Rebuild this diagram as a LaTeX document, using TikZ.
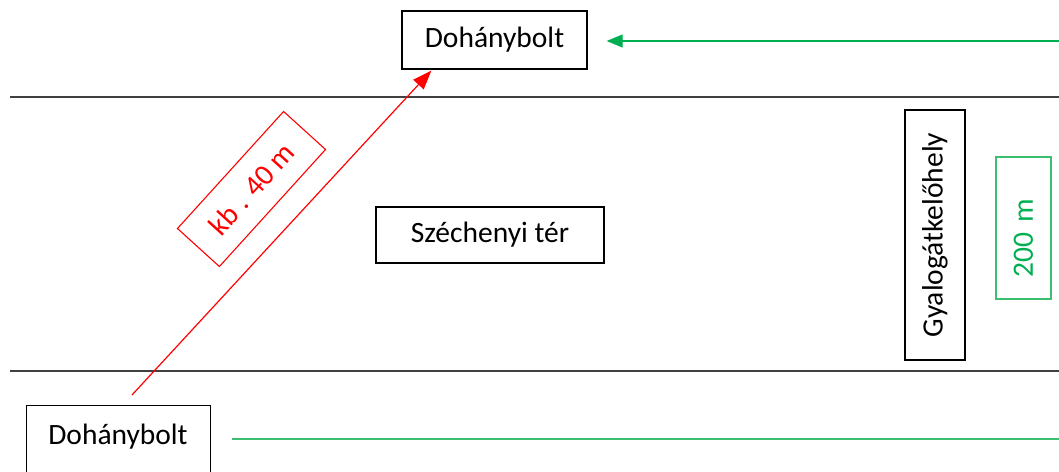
\documentclass[tikz,border=0pt]{standalone}
\usepackage{fontspec}
\setmainfont{Carlito}
\usetikzlibrary{arrows.meta,calc}
\definecolor{offgreen}{HTML}{00B050}
\definecolor{linegreen}{HTML}{3CBF70}
\definecolor{roadgray}{HTML}{404040}
\begin{document}
\begin{tikzpicture}[x=1pt,y=-1pt,
  lbl/.style={font=\fontsize{29.5}{35}\selectfont, inner sep=0pt},
  box/.style={lbl, draw=black, line width=1.3pt, fill=white},
  road/.style={draw=roadgray, line width=1.3pt},
  redarrow/.style={draw=red, line width=1.2pt, -{Triangle[length=19pt,width=14pt]}},
  greenarrow/.style={draw=offgreen, line width=1.2pt, -{Triangle[length=16pt,width=13pt]}},
  greenline/.style={draw=linegreen, line width=1.2pt}]
\useasboundingbox (0,0) rectangle (1059,471);
\clip (0,0) rectangle (1059,471);
% roads
\coordinate (r1a) at (10,97);
\coordinate (r1b) at (1059,97);
\coordinate (r2a) at (10,371);
\coordinate (r2b) at (1059,371);
\draw[road] (r1a) -- (r1b);
\draw[road] (r2a) -- (r2b);
% nodes
\node[box, minimum width=185pt, minimum height=58pt] (top) at (494.5,40) {Dohánybolt};
\node[box, minimum width=184pt, minimum height=90pt, anchor=north west] (bot) at (26,405) {};
\node[lbl] (bottxt) at (118,437) {Dohánybolt};
\node[box, minimum width=228pt, minimum height=56pt] (sq) at (490,235) {Széchenyi tér};
\node[box, rotate=90, minimum width=250pt, minimum height=60pt] (cross) at (935,235) {Gyalogátkelőhely};
\node[lbl, draw=linegreen, line width=1.2pt, rotate=90, minimum height=55pt,
      inner xsep=22pt, text width=98pt, align=left] (dist) at (1023.5,228) {\textcolor{offgreen}{200 m}};
\node[lbl, draw=red, line width=1.1pt, rotate=47.8, minimum width=158pt, minimum height=56.6pt,
      text=red] (kb) at (251.5,189) {kb . 40 m};
% connectors
\coordinate (rs) at (132,395);
\coordinate (rt) at ($(top.south west)+(30,1)$);
\draw[redarrow] (rs) -- (rt);
\coordinate (gs) at (1059,41);
\coordinate (gt) at ($(top.east)+(19,1)$);
\draw[greenarrow] (gs) -- (gt);
\coordinate (ls) at ($(bot.north east)+(21,34)$);
\coordinate (le) at (1059,439);
\draw[greenline] (ls) -- (le);
\end{tikzpicture}
\end{document}
